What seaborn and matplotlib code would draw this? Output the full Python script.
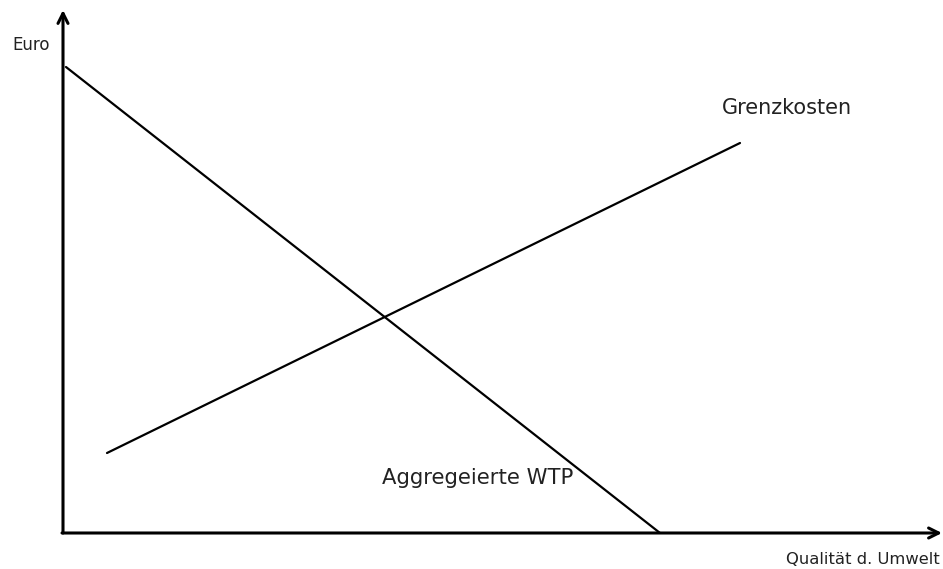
import matplotlib
matplotlib.use("Agg")
import matplotlib.pyplot as plt
import seaborn as sns
import pandas as pd

sns.set_theme(style="white")
plt.rcParams['font.family'] = ['DejaVu Sans']

# Data (in axis units: x = quality, y = euro)
wtp_x = [3, 597]
wtp_y = [466, 0]
gk_x = [44, 677]
gk_y = [80, 390]

x_label = "Qualität d. Umwelt"
y_label = "Euro"
wtp_label = "Aggregeierte WTP"
gk_label = "Grenzkosten"

W, H = 943, 569
fig = plt.figure(figsize=(W / 100, H / 100), dpi=100)
ax = fig.add_axes([63 / W, (H - 533) / H, (942 - 63) / W, (533 - 10) / H])
ax.set_xlim(0, 879)
ax.set_ylim(0, 523)
ax.axis("off")

df_wtp = pd.DataFrame({"x": wtp_x, "y": wtp_y})
df_gk = pd.DataFrame({"x": gk_x, "y": gk_y})
sns.lineplot(data=df_wtp, x="x", y="y", ax=ax, color="black", linewidth=1.6, sort=False)
sns.lineplot(data=df_gk, x="x", y="y", ax=ax, color="black", linewidth=1.6, sort=False)

# axes with arrows
arrow = dict(arrowstyle="->", color="black", lw=2.2, mutation_scale=18, shrinkA=0, shrinkB=0)
ax.annotate("", xy=(0, 523), xytext=(0, 0), arrowprops=arrow, annotation_clip=False)
ax.annotate("", xy=(879, 0), xytext=(-1, 0), arrowprops=arrow, annotation_clip=False)

ax.text(-51, 488, y_label, fontsize=12, ha="left", va="center", color="#222222")
ax.text(877, -27, x_label, fontsize=11.8, ha="right", va="center", color="#222222")
ax.text(659, 425, gk_label, fontsize=15, ha="left", va="center", color="#222222")
ax.text(319, 55, wtp_label, fontsize=15.2, ha="left", va="center", color="#222222")

fig.savefig("out.png", dpi=100, facecolor="white")
